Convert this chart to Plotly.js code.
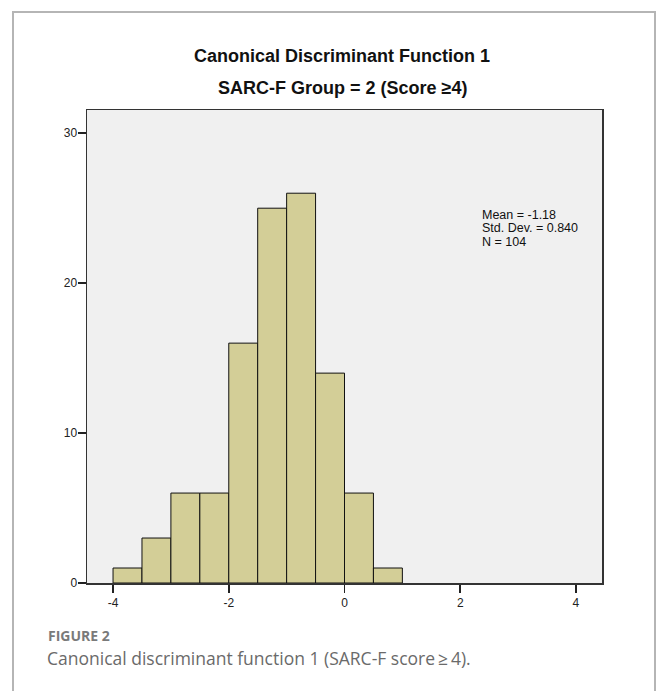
<!DOCTYPE html>
<html>
<head>
<meta charset="utf-8">
<script src="https://cdn.plot.ly/plotly-3.0.1.min.js"></script>
<style>
html,body{margin:0;padding:0;background:#fff;}
#wrap{position:relative;width:656px;height:691px;overflow:hidden;}
#frame{position:absolute;left:12px;top:11px;width:644px;height:700px;border-left:2px solid #b5b5b5;border-top:2px solid #b5b5b5;border-right:2px solid #b5b5b5;box-sizing:border-box;pointer-events:none;}
#chart{position:absolute;left:0;top:0;width:656px;height:691px;}
</style>
</head>
<body>
<div id="wrap">
<div id="chart"></div>
<div id="frame"></div>
</div>
<script>
// Histogram data
var binStarts = [-4, -3.5, -3, -2.5, -2, -1.5, -1, -0.5, 0, 0.5];
var counts    = [1, 3, 6, 6, 16, 25, 26, 14, 6, 1];
var binWidth  = 0.5;
var xTicks = [-4, -2, 0, 2, 4];
var yTicks = [0, 10, 20, 30];
var statLines = ["Mean = -1.18", "Std. Dev. = 0.840", "N = 104"];
var titleLines = ["Canonical Discriminant Function 1", "SARC-F Group = 2 (Score \u22654)"];
var figLabel = "FIGURE 2";
var captionText = "Canonical discriminant function 1 (SARC-F score\u2009\u2265\u20094).";

var centers = binStarts.map(function(s){ return s + binWidth/2; });

var trace = {
  type: 'bar',
  x: centers,
  y: counts,
  width: binStarts.map(function(){ return binWidth; }),
  marker: {color: '#d3ce97', line: {color: '#111', width: 1}},
  hoverinfo: 'x+y'
};

var L = 86.7, R = 602, T = 110, B = 583.3;
function px2paperX(px){ return (px - L)/(R - L); }
function px2paperY(py){ return (B - py)/(B - T); }

var annotations = [];
annotations.push({text: '<b>'+titleLines[0]+'</b>', xref:'paper', yref:'paper', x: px2paperX(342), y: px2paperY(56),
  showarrow:false, xanchor:'center', yanchor:'middle', font:{family:'Liberation Sans, Arial', size:18, color:'#111'}});
annotations.push({text: '<b>'+titleLines[1]+'</b>', xref:'paper', yref:'paper', x: px2paperX(342), y: px2paperY(88),
  showarrow:false, xanchor:'center', yanchor:'middle', font:{family:'Liberation Sans, Arial', size:18, color:'#111'}});
var statY = [215, 228.5, 242];
statLines.forEach(function(t, i){
  annotations.push({text: t, xref:'paper', yref:'paper', x: px2paperX(480), y: px2paperY(statY[i]),
    showarrow:false, xanchor:'left', yanchor:'middle', font:{family:'Liberation Sans, Arial', size:12.5, color:'#111'}});
});
annotations.push({text: '<b>'+figLabel+'</b>', xref:'paper', yref:'paper', x: px2paperX(46), y: px2paperY(636),
  showarrow:false, xanchor:'left', yanchor:'middle', font:{family:'Open Sans, Noto Sans', size:14, color:'#7a7a7a'}});
annotations.push({text: captionText, xref:'paper', yref:'paper', x: px2paperX(45), y: px2paperY(658),
  showarrow:false, xanchor:'left', yanchor:'middle', font:{family:'Open Sans, Noto Sans', size:17.5, color:'#6a6a6a'}});

var layout = {
  width: 656, height: 691,
  margin: {l: L, r: 656 - R, t: T, b: 691 - B, pad: 0},
  paper_bgcolor: '#ffffff',
  plot_bgcolor: '#f0f0f0',
  showlegend: false,
  bargap: 0,
  xaxis: {
    range: [-4.45, 4.45], tickvals: xTicks, ticktext: xTicks.map(String),
    ticks: 'outside', ticklen: 8, tickwidth: 1.5, tickcolor: '#222',
    showline: true, linecolor: '#333', linewidth: 1.5, mirror: true,
    showgrid: false, zeroline: false, fixedrange: true,
    tickfont: {family: 'Liberation Sans, Arial', size: 12, color: '#222'}
  },
  yaxis: {
    range: [0, 31.55], tickvals: yTicks, ticktext: yTicks.map(String),
    ticks: 'outside', ticklen: 8, tickwidth: 1.5, tickcolor: '#222',
    showline: true, linecolor: '#333', linewidth: 1.5, mirror: true,
    showgrid: false, zeroline: false, fixedrange: true,
    ticklabelstandoff: -2,
    tickfont: {family: 'Liberation Sans, Arial', size: 12, color: '#222'}
  },
  annotations: annotations
};

Plotly.newPlot('chart', [trace], layout, {displayModeBar: false, staticPlot: true});
</script>
</body>
</html>
